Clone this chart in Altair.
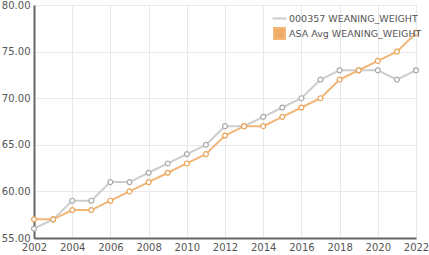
import altair as alt
import pandas as pd

years = list(range(2002, 2023))
animal = [56, 57, 59, 59, 61, 61, 62, 63, 64, 65, 67, 67, 68, 69, 70, 72, 73, 73, 73, 72, 73]
asa_avg = [57, 57, 58, 58, 59, 60, 61, 62, 63, 64, 66, 67, 67, 68, 69, 70, 72, 73, 74, 75, 77]
series_names = ["000357 WEANING_WEIGHT", "ASA Avg WEANING_WEIGHT"]
line_colors = ["#cdcdcd", "#f2b679"]
point_colors = ["#a8a8a8", "#e9a257"]
x_ticks = list(range(2002, 2023, 2))
y_ticks = [55, 60, 65, 70, 75, 80]

rows = []
for y, a, b in zip(years, animal, asa_avg):
    rows.append({"year": y, "value": a, "series": series_names[0]})
    rows.append({"year": y, "value": b, "series": series_names[1]})
df = pd.DataFrame(rows)

x = alt.X("year:Q", scale=alt.Scale(domain=[2002, 2022], nice=False, zero=False),
          axis=alt.Axis(values=x_ticks, format="d", title=None, labelFontSize=10,
                        labelColor="#555555", domainColor="#666666", domainWidth=2,
                        ticks=False, gridColor="#e9e9e9", labelPadding=4,
                        labelFlush=False, labelFont="DejaVu Sans"))
y = alt.Y("value:Q", scale=alt.Scale(domain=[55, 80], nice=False, zero=False),
          axis=alt.Axis(values=y_ticks, format=".2f", title=None, labelFontSize=10,
                        labelColor="#555555", domainColor="#666666", domainWidth=2,
                        ticks=False, gridColor="#e9e9e9", labelPadding=4,
                        labelFlush=False, labelFont="DejaVu Sans"))

first = series_names[0]
legend = alt.Legend(
    title=None, orient="none", legendX=239, legendY=7, padding=0,
    labelFontSize=9.5, labelColor="#555555", labelFont="DejaVu Sans",
    symbolStrokeWidth=2, labelOffset=3, rowPadding=1,
    symbolType={"expr": f"datum.value == '{first}' ? 'stroke' : 'square'"},
    symbolFillColor={"expr": f"datum.value == '{first}' ? 'transparent' : '#f0ac66'"},
    symbolSize={"expr": f"datum.value == '{first}' ? 196 : 121"},
)

lines = alt.Chart(df).mark_line(strokeWidth=2).encode(
    x=x, y=y,
    color=alt.Color("series:N", scale=alt.Scale(domain=series_names, range=line_colors), legend=legend),
)
points = alt.Chart(df).mark_point(filled=True, fill="white", size=24, strokeWidth=1.2, opacity=1).encode(
    x=x, y=y,
    stroke=alt.Stroke("series:N", scale=alt.Scale(domain=series_names, range=point_colors), legend=None),
)

chart = alt.layer(lines, points).properties(
    width=382, height=233,
    autosize=alt.AutoSizeParams(type="none"),
    padding={"left": 34, "top": 5, "right": 13, "bottom": 17},
).configure_view(stroke="#777777", strokeWidth=2).configure(background="white")

chart.save("out.html", embed_options={"renderer": "svg", "actions": False})
